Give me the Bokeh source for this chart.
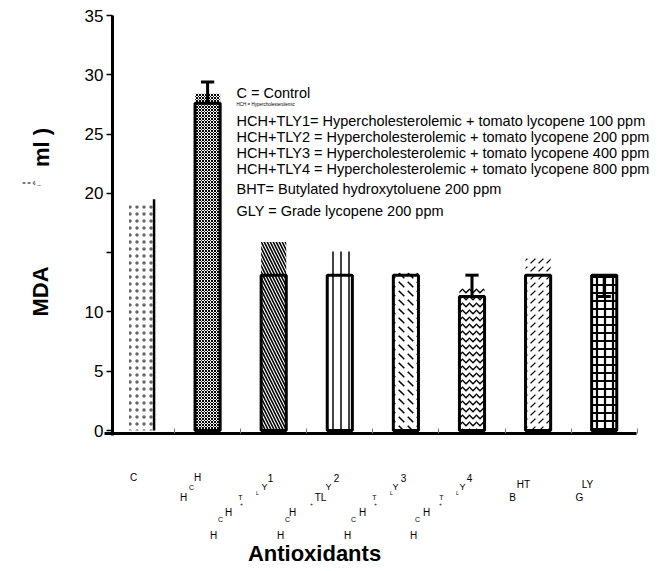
from bokeh.plotting import figure
from bokeh.models import Range1d, FixedTicker, Label, ColumnDataSource
from bokeh.embed import file_html
from bokeh.resources import INLINE
import math

# ---- data ----
categories = ["C", "HCH", "HCH+TLY1", "HCH+TLY2", "HCH+TLY3", "HCH+TLY4", "BHT", "GLY"]
mda_mean = [19.5, 27.6, 13.1, 13.1, 13.1, 11.3, 13.1, 13.1]
pattern_top = [19.0, 28.4, 15.9, 15.1, 13.3, 12.0, 14.6, 13.1]
err_cat = [1, 5, 7]
err_from = [27.6, 11.3, 13.1]
err_to = [29.4, 13.1, 11.3]
y_ticks = [0, 5, 10, 15, 20, 25, 30, 35]
y_tick_labels = {0: "0", 5: "5", 10: "10", 15: "", 20: "20", 25: "25", 30: "30", 35: "35"}

legend_lines = [
    "C = Control",
    "HCH = Hypercholesterolemic",
    "HCH+TLY1= Hypercholesterolemic + tomato lycopene 100 ppm",
    "HCH+TLY2 = Hypercholesterolemic + tomato lycopene 200 ppm",
    "HCH+TLY3 = Hypercholesterolemic + tomato lycopene 400 ppm",
    "HCH+TLY4 = Hypercholesterolemic + tomato lycopene 800 ppm",
    "BHT= Butylated hydroxytoluene 200 ppm",
    "GLY = Grade lycopene 200 ppm",
]

# ---- styles / layout ----
FONT = "Liberation Sans"
patterns = ["dot", "diagonal_cross", "left_diagonal_line", "vertical_line",
            "left_diagonal_dash", "horizontal_wave", "right_diagonal_dash", "cross"]
hscale = [7, 3, 6, 8, 9, 7, 8, 8]
hweight = [0.5, 1, 1.6, 2, 1.5, 1.4, 1.2, 2.2]
halpha = [0.6, 1, 1, 1, 1, 1, 1, 1]
hcolor = ["black", "black", "black", "#444444", "black", "black", "black", "black"]
BAR_W = 0.38
W, H = 657, 571
PX_X = 66.1
PX_Y = 11.857
X0_PX = 141
Y0_PX = 430


def dx(px):
    return (px - X0_PX) / PX_X


def dy(py):
    return (Y0_PX - py) / PX_Y


x = list(range(len(categories)))

p = figure(width=W, height=H, output_backend="svg", toolbar_location=None,
           x_range=Range1d(dx(0), dx(W)), y_range=Range1d(dy(H), dy(0)),
           min_border=0)
p.grid.visible = False
p.outline_line_color = None
p.background_fill_color = "white"

src = ColumnDataSource(dict(x=x, top=pattern_top, pat=patterns, sc=hscale,
                            wt=hweight, hc=hcolor, ha=halpha))
p.vbar(x="x", top="top", bottom=0, width=BAR_W, source=src, fill_alpha=0,
       line_alpha=0, hatch_pattern="pat", hatch_scale="sc", hatch_weight="wt",
       hatch_color="hc", hatch_alpha="ha")

# outlined bars (control drawn with right edge only)
p.vbar(x=x[1:], top=mda_mean[1:], bottom=0, width=BAR_W, fill_alpha=0,
       line_color="black", line_width=3)
p.segment(x0=[x[0] + BAR_W / 2], y0=[0], x1=[x[0] + BAR_W / 2], y1=[mda_mean[0]],
          line_color="black", line_width=2.5)

# error bars
p.segment(x0=err_cat, y0=err_from, x1=err_cat, y1=err_to, line_color="black", line_width=3)
p.segment(x0=[c - 0.1 for c in err_cat], y0=err_to, x1=[c + 0.1 for c in err_cat], y1=err_to,
          line_color="black", line_width=3)

# axes (drawn at fixed positions inside the full-canvas frame)
ya = p.yaxis[0]
ya.fixed_location = dx(112)
ya.bounds = (dy(435), 35)
ya.ticker = FixedTicker(ticks=y_ticks)
ya.major_label_overrides = y_tick_labels
ya.axis_line_width = 3
ya.major_tick_in = 0
ya.major_tick_out = 6
ya.major_tick_line_width = 1.5
ya.minor_tick_line_color = None
ya.major_label_text_font = FONT
ya.major_label_text_font_size = "17px"
ya.major_label_text_color = "black"
ya.major_label_standoff = 3

xa = p.xaxis[0]
xa.fixed_location = dy(433)
xa.bounds = (dx(104), dx(636))
xa.ticker = FixedTicker(ticks=[i + 0.5 for i in range(len(categories))])
xa.axis_line_width = 3
xa.major_tick_in = 5
xa.major_tick_out = 0
xa.major_tick_line_color = "#777777"
xa.minor_tick_line_color = None
xa.major_label_text_alpha = 0
xa.major_label_text_font_size = "1px"

# legend-like text block
leg_y = [92, 104, 120, 136, 152, 168, 188, 210]
leg_size = ["14.5px", "4.5px", "14.5px", "14.5px", "14.5px", "14.5px", "14.5px", "14.5px"]
for t, yy, s in zip(legend_lines, leg_y, leg_size):
    p.add_layout(Label(x=dx(236), y=dy(yy), text=t, text_font=FONT, text_font_size=s,
                       text_baseline="middle", text_align="left", text_color="black"))

# broken category labels (fragments as in the source figure)
frags = [
    ("C", 133, 477, 10),
    ("H", 197, 477, 10), ("C", 191, 487, 7), ("H", 183, 497, 10),
    ("1", 270, 477, 10), ("Y", 264, 486, 9), ("L", 257, 492, 5), ("T", 240, 497, 7),
    ("+", 241, 503, 5), ("H", 228, 512, 10), ("C", 220, 519, 7), ("H", 213, 535, 10),
    ("2", 336, 477, 10), ("Y", 328, 486, 9), ("TL", 320, 497, 10), ("+", 311, 503, 5),
    ("H", 292, 512, 10), ("C", 287, 519, 7), ("H", 280, 535, 10),
    ("3", 403, 477, 10), ("Y", 395, 486, 9), ("L", 391, 492, 5), ("T", 374, 497, 7),
    ("+", 375, 503, 5), ("H", 362, 512, 10), ("C", 353, 519, 7), ("H", 347, 535, 10),
    ("4", 469, 477, 10), ("Y", 462, 486, 9), ("L", 457, 492, 5), ("T", 441, 497, 7),
    ("+", 440, 503, 5), ("H", 426, 512, 10), ("C", 417, 519, 7), ("H", 413, 535, 10),
    ("HT", 523, 484, 10), ("B", 512, 497, 10),
    ("LY", 587, 484, 10), ("G", 579, 497, 10),
]
for t, px, py, s in frags:
    p.add_layout(Label(x=dx(px), y=dy(py), text=t, text_font=FONT, text_font_size=f"{s}px",
                       text_baseline="middle", text_align="center", text_color="black"))

# axis titles
p.add_layout(Label(x=dx(314), y=dy(553), text="Antioxidants", text_font=FONT,
                   text_font_size="22px", text_font_style="bold", text_align="center",
                   text_baseline="middle", text_color="black"))
p.add_layout(Label(x=dx(40), y=dy(291), text="MDA", text_font=FONT, angle=math.pi / 2,
                   text_font_size="22px", text_font_style="bold", text_align="center",
                   text_baseline="middle", text_color="black"))
p.add_layout(Label(x=dx(41), y=dy(147), text="ml )", text_font=FONT, angle=math.pi / 2,
                   text_font_size="22px", text_font_style="bold", text_align="center",
                   text_baseline="middle", text_color="black"))
p.add_layout(Label(x=dx(31), y=dy(182), text="= = ¢ _", text_font=FONT,
                   text_font_size="6px", text_align="center", text_baseline="middle",
                   text_color="black"))

open("out.html", "w").write(file_html(p, INLINE))
